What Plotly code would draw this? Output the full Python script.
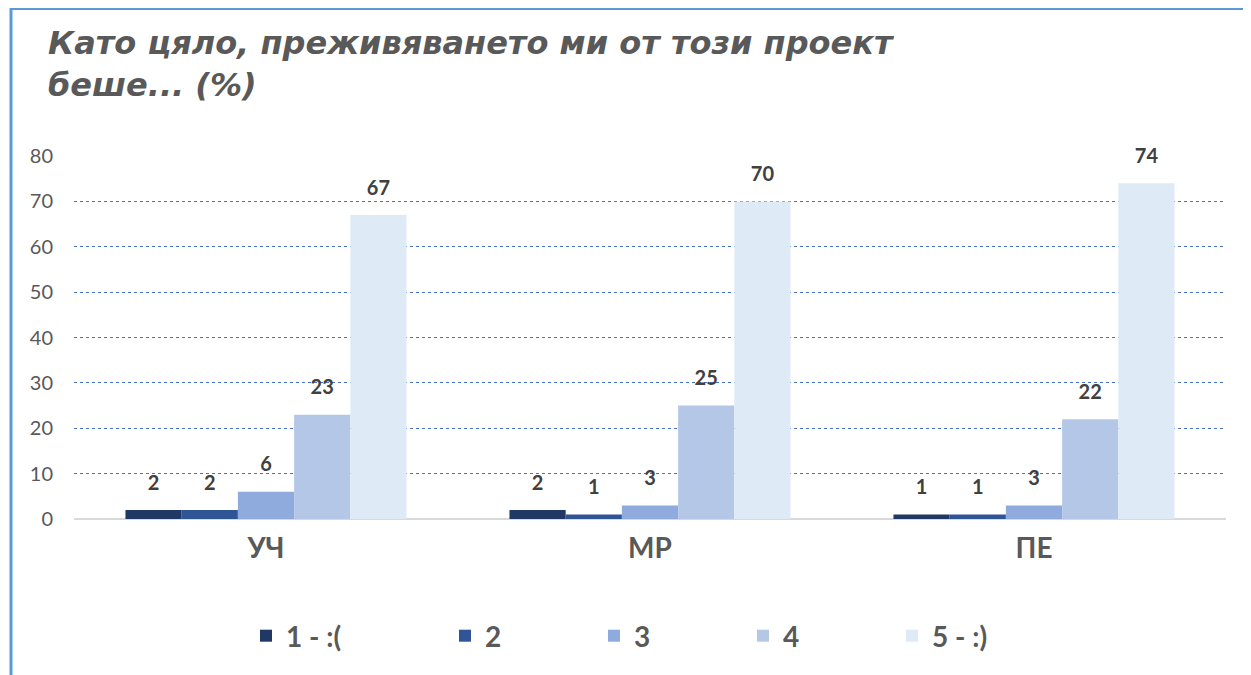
import plotly.graph_objects as go

categories = ["УЧ", "МР", "ПЕ"]
series_names = ["1 - :(", "2", "3", "4", "5 - :)"]
s1 = [2, 2, 1]
s2 = [2, 1, 1]
s3 = [6, 3, 3]
s4 = [23, 25, 22]
s5 = [67, 70, 74]
series_values = [s1, s2, s3, s4, s5]
colors = ["#203864", "#2F5597", "#8FAADC", "#B4C7E7", "#DEEBF7"]
y_ticks = [0, 10, 20, 30, 40, 50, 60, 70, 80]
title_text = "Като цяло, преживяването ми от този проект<br>беше... (%)"

W, H = 1251, 675
OFF = 8  # page body offset
L, R, T, B = 66, 33, 148, 164
BARGAP = 0.268

pw = W - L - R
ph = H - T - B


def px_x(p):
    return (p - OFF - L) / pw


def px_y(p):
    return (H - B - (p - OFF)) / ph


fig = go.Figure()
for i, (name, vals, col) in enumerate(zip(series_names, series_values, colors)):
    fig.add_trace(go.Bar(
        x=categories, y=vals, name=name, marker=dict(color=col, line=dict(width=0)),
        legend="legend2" if i == 0 else "legend",
    ))
for name, vals in zip(series_names, series_values):
    fig.add_trace(go.Scatter(
        x=categories, y=vals, mode="markers+text", text=[str(v) for v in vals],
        textposition="top center", marker=dict(size=23, opacity=0),
        textfont=dict(family="Lato", size=20, color="#404040", weight="bold"),
        showlegend=False, hoverinfo="skip", cliponaxis=False,
    ))

fig.update_layout(
    width=W, height=H,
    margin=dict(l=L, r=R, t=T, b=B),
    paper_bgcolor="white", plot_bgcolor="white",
    barmode="group", bargap=BARGAP, bargroupgap=0,
    scattermode="group", scattergap=BARGAP,
    showlegend=True,
    legend=dict(orientation="h", x=(465 - OFF - 20) / W, xanchor="left", xref="container",
                y=1 - (636 - OFF) / H, yanchor="middle", yref="container",
                font=dict(family="Lato", size=28, color="#595959", weight="bold"),
                entrywidth=104, entrywidthmode="pixels", traceorder="normal",
                bgcolor="rgba(0,0,0,0)"),
    legend2=dict(orientation="h", x=(266 - OFF - 20) / W, xanchor="left", xref="container",
                 y=1 - (636 - OFF) / H, yanchor="middle", yref="container",
                 font=dict(family="Lato", size=28, color="#595959", weight="bold"),
                 bgcolor="rgba(0,0,0,0)"),
    xaxis=dict(showgrid=False, ticks="", ticklabelstandoff=10,
               tickfont=dict(family="Lato", size=28, color="#595959", weight="bold"),
               showline=False),
    yaxis=dict(range=[0, 80], tickvals=y_ticks, showgrid=True, gridcolor="#4472C4",
               griddash="dot", gridwidth=1, zeroline=True, zerolinecolor="#D9D9D9",
               zerolinewidth=2, ticks="", ticklabelstandoff=20,
               tickfont=dict(family="Lato", size=20, color="#595959")),
    annotations=[
        dict(text=title_text, xref="paper", yref="paper", x=px_x(46), y=px_y(22),
             xanchor="left", yanchor="top", align="left", showarrow=False,
             font=dict(family="DejaVu Sans", size=32, color="#595959", weight="bold",
                       style="italic")),
    ],
    shapes=[
        dict(type="line", xref="paper", yref="paper", x0=px_x(11), x1=px_x(11),
             y0=px_y(8), y1=px_y(H + 20), line=dict(color="#5B9BD5", width=3)),
        dict(type="line", xref="paper", yref="paper", x0=px_x(10), x1=px_x(W + 20),
             y0=px_y(8.5), y1=px_y(8.5), line=dict(color="#5B9BD5", width=3)),
    ],
)

fig.write_html("out.html")
